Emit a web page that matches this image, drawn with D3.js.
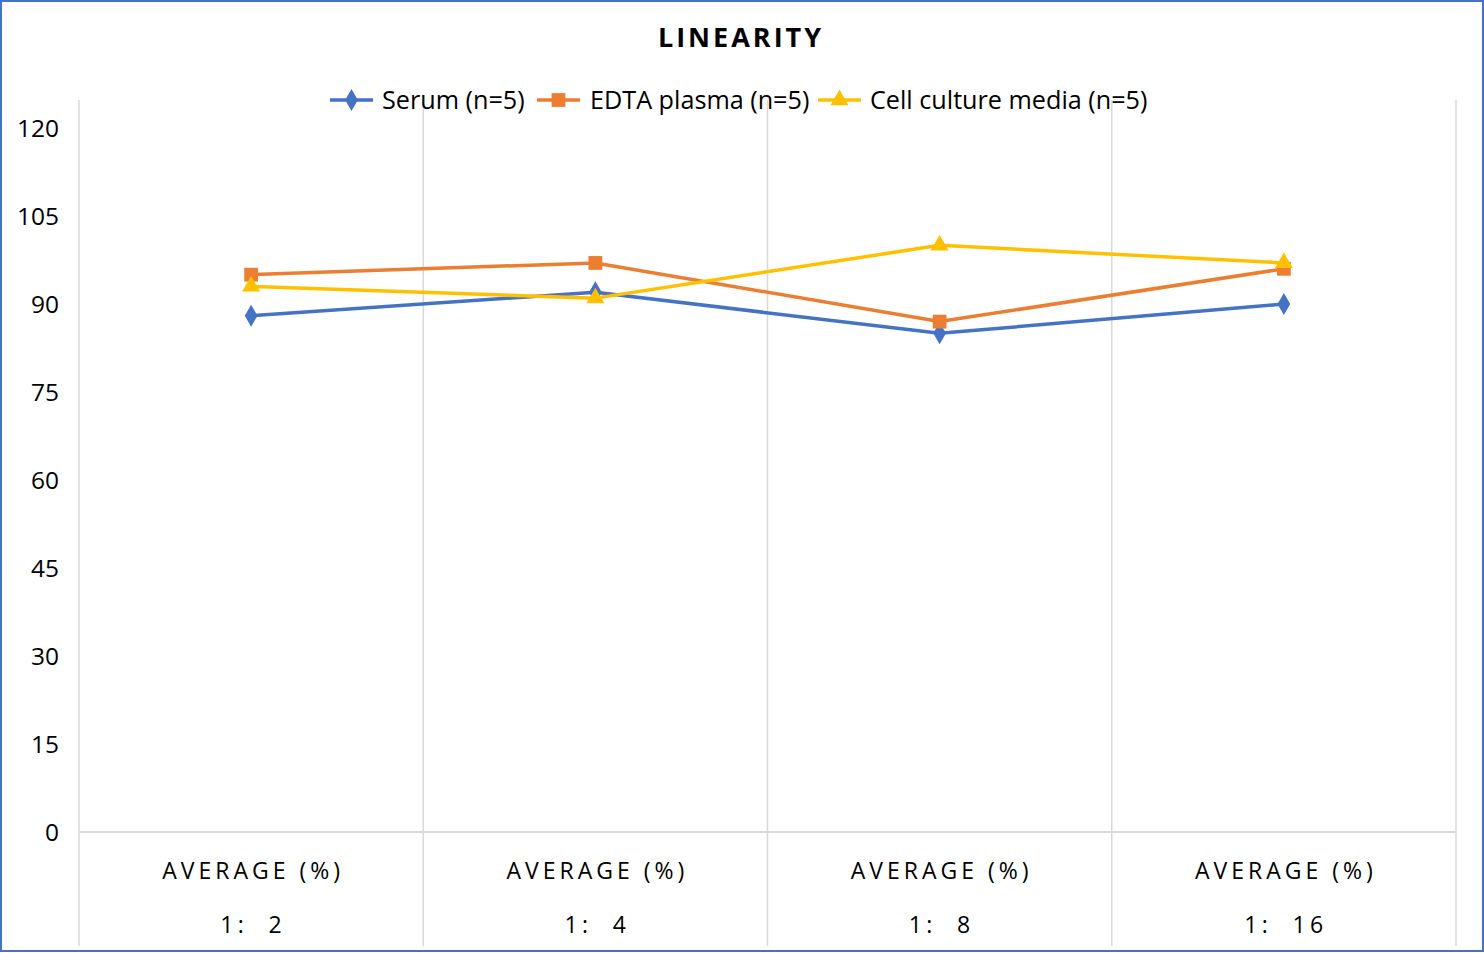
<!DOCTYPE html>
<html>
<head>
<meta charset="utf-8">
<script src="https://cdn.jsdelivr.net/npm/d3@7"></script>
<style>
  html, body { margin: 0; padding: 0; background: #fff; }
  svg { display: block; font-family: "Open Sans", "Noto Sans", sans-serif; }
</style>
</head>
<body>
<svg id="chart"></svg>
<script>
// Categories and their two-level labels
const categories = ["1:2", "1:4", "1:8", "1:16"];
const levelOneLabels = ["AVERAGE (%)", "AVERAGE (%)", "AVERAGE (%)", "AVERAGE (%)"];
const levelTwoLabels = ["1:  2", "1:  4", "1:  8", "1:  16"];

// Series values
const serumValues = [88, 92, 85, 90];
const edtaValues = [95, 97, 87, 96];
const cellValues = [93, 91, 100, 97];

// Y-axis ticks
const yTicks = [0, 15, 30, 45, 60, 75, 90, 105, 120];

const series = [
  { name: "Serum (n=5)", values: serumValues, color: "#4472C4", symbol: d3.symbolDiamond, size: 140 },
  { name: "EDTA plasma (n=5)", values: edtaValues, color: "#ED7D31", symbol: d3.symbolSquare, size: 190 },
  { name: "Cell culture media (n=5)", values: cellValues, color: "#FFC000", symbol: d3.symbolTriangle, size: 140 }
];

const width = 1484;
const height = 953;
const margin = { top: 128, right: 28, bottom: 121, left: 79 };

const svg = d3.select("#chart")
  .attr("width", width)
  .attr("height", height);

// Outer border
svg.append("rect")
  .attr("x", 1).attr("y", 1)
  .attr("width", width - 2).attr("height", height - 3)
  .attr("fill", "#fff")
  .attr("stroke", "#4472C4")
  .attr("stroke-width", 2);

const xScale = d3.scaleBand()
  .domain(categories)
  .range([margin.left, width - margin.right])
  .padding(0);

const yScale = d3.scaleLinear()
  .domain([0, 120])
  .range([height - margin.bottom, margin.top]);

// Category separator lines (vertical)
const sepX = categories.map(c => xScale(c)).concat([xScale.range()[1]]);
svg.append("g")
  .selectAll("line")
  .data(sepX)
  .join("line")
  .attr("x1", d => d).attr("x2", d => d)
  .attr("y1", 100).attr("y2", 946)
  .attr("stroke", "#d9d9d9")
  .attr("stroke-width", 1.5);

// Baseline
svg.append("line")
  .attr("x1", margin.left).attr("x2", xScale.range()[1])
  .attr("y1", yScale(0)).attr("y2", yScale(0))
  .attr("stroke", "#d9d9d9")
  .attr("stroke-width", 2);

// Y-axis
const yAxis = d3.axisLeft(yScale).tickValues(yTicks).tickSize(0).tickPadding(0);
const yAxisGroup = svg.append("g")
  .attr("transform", `translate(59,1)`)
  .call(yAxis);
yAxisGroup.select(".domain").remove();
yAxisGroup.selectAll("text")
  .attr("font-size", 24.5)
  .attr("fill", "#000")
  .attr("font-family", "'Open Sans', sans-serif");

// Category labels
const labelGroup = svg.append("g");
labelGroup.selectAll("text.l1")
  .data(categories)
  .join("text")
  .attr("class", "l1")
  .attr("x", d => xScale(d) + xScale.bandwidth() / 2 + 2)
  .attr("y", 879)
  .attr("text-anchor", "middle")
  .attr("font-size", 23)
  .attr("letter-spacing", 4)
  .attr("fill", "#000")
  .text((d, i) => levelOneLabels[i]);
labelGroup.selectAll("text.l2")
  .data(categories)
  .join("text")
  .attr("class", "l2")
  .attr("x", d => xScale(d) + xScale.bandwidth() / 2 + 2)
  .attr("y", 933)
  .attr("text-anchor", "middle")
  .attr("font-size", 23)
  .attr("letter-spacing", 4.3)
  .style("white-space", "pre")
  .attr("fill", "#000")
  .text((d, i) => levelTwoLabels[i]);

// Lines and markers
const cx = d => xScale(d) + xScale.bandwidth() / 2;
const line = d3.line()
  .x((v, i) => cx(categories[i]))
  .y(v => yScale(v));

series.forEach(s => {
  svg.append("path")
    .datum(s.values)
    .attr("d", line)
    .attr("fill", "none")
    .attr("stroke", s.color)
    .attr("stroke-width", 3.5)
    .attr("stroke-linejoin", "round");
  svg.append("g")
    .selectAll("path")
    .data(s.values)
    .join("path")
    .attr("transform", (v, i) => `translate(${cx(categories[i])},${yScale(v)})`)
    .attr("d", d3.symbol().type(s.symbol).size(s.size))
    .attr("fill", s.color);
});

// Title
svg.append("text")
  .attr("x", 741)
  .attr("y", 47)
  .attr("text-anchor", "middle")
  .attr("font-size", 27)
  .attr("font-weight", "bold")
  .attr("letter-spacing", 3)
  .attr("fill", "#000")
  .text("LINEARITY");

// Legend
const legendItems = [
  { lineX: 330, textX: 382 },
  { lineX: 537, textX: 590 },
  { lineX: 818, textX: 870 }
];
const legend = svg.append("g");
series.forEach((s, i) => {
  const it = legendItems[i];
  legend.append("line")
    .attr("x1", it.lineX).attr("x2", it.lineX + 43)
    .attr("y1", 100).attr("y2", 100)
    .attr("stroke", s.color)
    .attr("stroke-width", 3.5);
  legend.append("path")
    .attr("transform", `translate(${it.lineX + 21.5},100)`)
    .attr("d", d3.symbol().type(s.symbol).size(s.size))
    .attr("fill", s.color);
  legend.append("text")
    .attr("x", it.textX)
    .attr("y", 109)
    .attr("font-size", 25.2)
    .attr("fill", "#000")
    .text(s.name);
});
</script>
</body>
</html>
